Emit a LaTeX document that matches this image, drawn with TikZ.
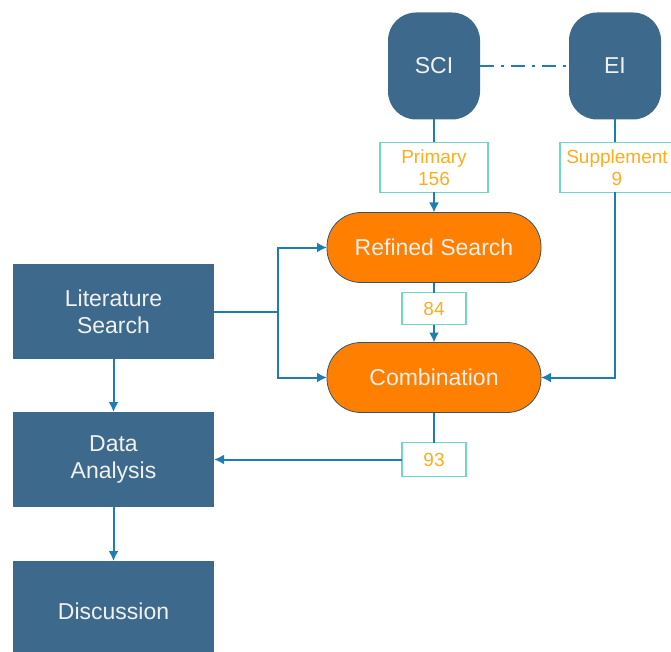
\documentclass[tikz,border=0pt]{standalone}
\usepackage{fontspec}
\setmainfont{Liberation Sans}
\usetikzlibrary{arrows.meta}
\usetikzlibrary{positioning}
\definecolor{boxblue}{RGB}{61,106,140}
\definecolor{linkblue}{RGB}{30,125,180}
\definecolor{steporange}{RGB}{255,128,0}
\definecolor{tagteal}{RGB}{110,215,200}
\definecolor{tagorange}{RGB}{255,172,30}
\definecolor{textwhite}{RGB}{240,240,240}
\tikzstyle{database} = [rectangle, rounded corners=28pt, minimum width=92pt, minimum height=107pt, outer sep=0pt, text centered, fill=boxblue, text=textwhite, font=\fontsize{23}{27}\selectfont]
\tikzstyle{stage} = [rectangle, minimum width=201pt, minimum height=95pt, outer sep=0pt, text centered, align=center, fill=boxblue, text=textwhite, font=\fontsize{23}{27}\selectfont]
\tikzstyle{filter} = [rectangle, rounded corners=34pt, minimum width=214pt, minimum height=70pt, outer sep=0pt, text centered, draw=boxblue!80!black, line width=0.8pt, fill=steporange, text=textwhite, font=\fontsize{23}{27}\selectfont]
\tikzstyle{tag} = [rectangle, minimum height=32pt, inner sep=0pt, outer sep=0pt, text centered, align=center, draw=tagteal, line width=1.5pt, fill=white, text=tagorange, font=\fontsize{19}{22}\selectfont]
\tikzstyle{line} = [line width=2pt, draw=linkblue]
\tikzstyle{arrow} = [line, -{Latex[length=10pt,width=10pt]}]

\begin{document}
\begin{tikzpicture}[x=1pt, y=-1pt]
	\clip (0,0) rectangle (671,652);
	\node (sci) [database] at (434,66) {SCI};
	\node (ei) [database, right=89pt of sci] {EI};
	\node (primary) [tag, minimum width=108pt, minimum height=50pt, below=23pt of sci] {Primary\\156};
	\node (supplement) [tag, minimum width=114pt, minimum height=50pt, below=23pt of ei, xshift=2pt] {Supplement\\9};
	\node (refined) [filter, below=20pt of primary] {Refined Search};
	\node (n84) [tag, minimum width=64pt, below=10pt of refined] {84};
	\node (combination) [filter, below=18pt of n84] {Combination};
	\node (n93) [tag, minimum width=64pt, minimum height=34pt, below=30pt of combination] {93};
	\node (analysis) [stage, left=188pt of n93] {Data\\Analysis};
	\node (litsearch) [stage, above=53pt of analysis] {Literature\\Search};
	\node (discussion) [stage, minimum height=100pt, below=54pt of analysis] {Discussion};

	\draw [line, dash pattern=on 14pt off 7pt on 3pt off 7pt] (sci) -- (ei);
	\draw [line] (sci) -- (primary);
	\draw [line] (ei) -- (ei |- supplement.north);
	\draw [arrow] (primary) -- (refined);
	\draw [line] (refined) -- (n84);
	\draw [arrow] (n84) -- (combination);
	\draw [line] (combination) -- (n93);
	\draw [arrow] (n93.west) -- (analysis.east |- n93.west);

	\draw [line] (litsearch.east) -- ++(64,0) coordinate (split);
	\draw [arrow] (split) |- (refined.west);
	\draw [arrow] (split) |- (combination.west);
	\draw [arrow] (ei |- supplement.south) |- (combination.east);

	\draw [arrow] (litsearch) -- (analysis);
	\draw [arrow] (analysis) -- (discussion);
\end{tikzpicture}
\end{document}
